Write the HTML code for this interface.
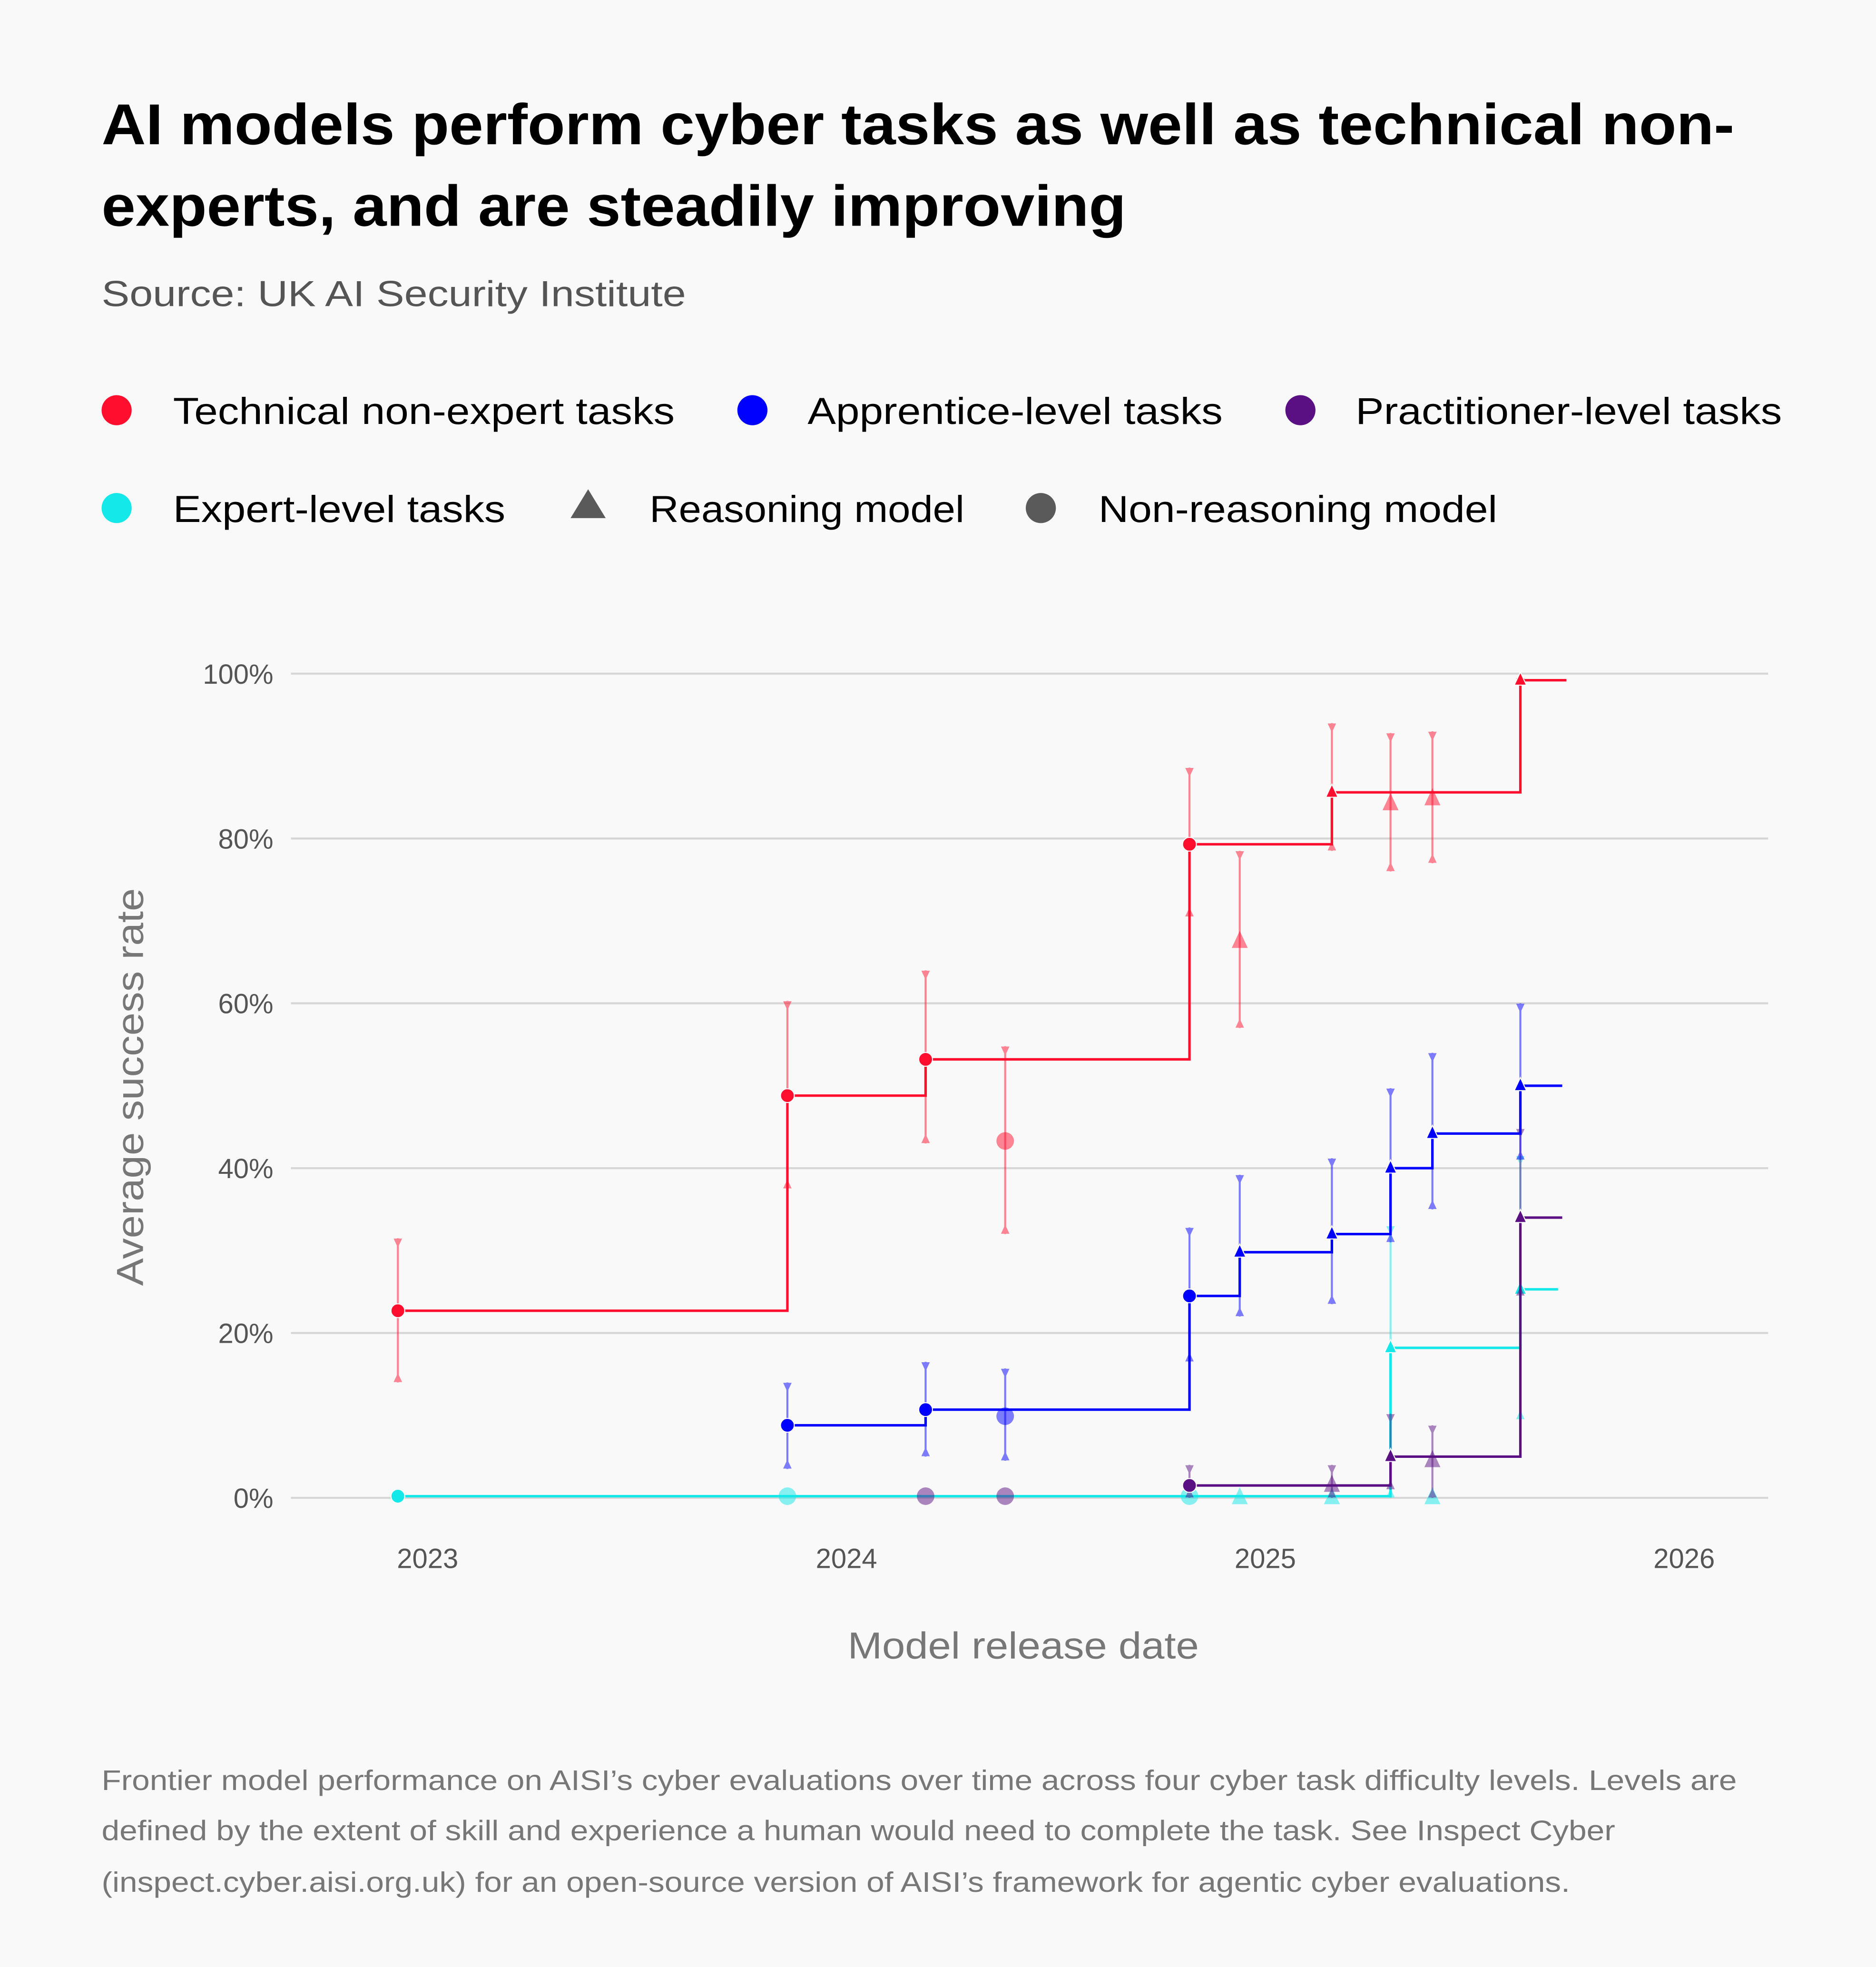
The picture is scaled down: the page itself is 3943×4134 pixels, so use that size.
<!DOCTYPE html>
<html><head><meta charset="utf-8">
<style>
html,body{margin:0;padding:0;background:#f9f9f9;}
svg{display:block;font-family:"Liberation Sans",sans-serif;}
</style></head>
<body>
<svg id="chart" width="3943" height="4134" viewBox="0 0 1496 1568" preserveAspectRatio="none" xmlns="http://www.w3.org/2000/svg">
<rect x="0" y="0" width="1496" height="1568" fill="#f9f9f9"/>
<text x="81" y="115" font-size="46" font-weight="bold" fill="#000" textLength="1302" lengthAdjust="spacingAndGlyphs">AI models perform cyber tasks as well as technical non-</text>
<text x="81" y="180" font-size="46" font-weight="bold" fill="#000" textLength="817" lengthAdjust="spacingAndGlyphs">experts, and are steadily improving</text>
<text x="81" y="244" font-size="29" fill="#555" textLength="466" lengthAdjust="spacingAndGlyphs">Source: UK AI Security Institute</text>

<g font-size="30" fill="#000">
<g><circle cx="93" cy="327" r="12" fill="#ff0f2d"/><text x="138" y="338" textLength="400" lengthAdjust="spacingAndGlyphs">Technical non-expert tasks</text></g>
<g><circle cx="600" cy="327" r="12" fill="#0000ff"/><text x="644" y="338" textLength="331" lengthAdjust="spacingAndGlyphs">Apprentice-level tasks</text></g>
<g><circle cx="1037" cy="327" r="12" fill="#5a0f82"/><text x="1081" y="338" textLength="340" lengthAdjust="spacingAndGlyphs">Practitioner-level tasks</text></g>
<g><circle cx="93" cy="405" r="12" fill="#14e8e8"/><text x="138" y="416" textLength="265" lengthAdjust="spacingAndGlyphs">Expert-level tasks</text></g>
<g><polygon points="469,390 455,413 483,413" fill="#5a5a5a"/><text x="518" y="416" textLength="251" lengthAdjust="spacingAndGlyphs">Reasoning model</text></g>
<g><circle cx="830" cy="405" r="12" fill="#5a5a5a"/><text x="876" y="416" textLength="318" lengthAdjust="spacingAndGlyphs">Non-reasoning model</text></g>
</g>

<g id="grid"></g>
<g id="yticks"></g>
<g id="xticks"></g>
<g id="marks"></g>

<text x="676" y="1322" font-size="30" fill="#777" textLength="280" lengthAdjust="spacingAndGlyphs">Model release date</text>
<text transform="translate(114,1025) rotate(-90)" font-size="30" fill="#777" textLength="317" lengthAdjust="spacingAndGlyphs">Average success rate</text>

<g font-size="22.5" fill="#777">
<text x="81" y="1427" textLength="1304" lengthAdjust="spacingAndGlyphs">Frontier model performance on AISI’s cyber evaluations over time across four cyber task difficulty levels. Levels are</text>
<text x="81" y="1467" textLength="1207" lengthAdjust="spacingAndGlyphs">defined by the extent of skill and experience a human would need to complete the task. See Inspect Cyber</text>
<text x="81" y="1508" textLength="1171" lengthAdjust="spacingAndGlyphs">(inspect.cyber.aisi.org.uk) for an open-source version of AISI’s framework for agentic cyber evaluations.</text>
</g>
</svg>
<script>
var yTicks = [0, 20, 40, 60, 80, 100];
var xTicks = [2023, 2024, 2025, 2026];
var redDates = [2022.92, 2023.85, 2024.18, 2024.37, 2024.81, 2024.93, 2025.15, 2025.29, 2025.39, 2025.60];
var redVals  = [22.7, 48.8, 53.2, 43.3, 79.3, 67.5, 85.6, 84.2, 84.8, 99.2];
var redLow   = [14, 37.5, 43, 32, 70.5, 57, 78.5, 76, 77, 99];
var redHigh  = [31.5, 60.3, 64, 54.8, 88.6, 78.5, 94, 92.8, 93, 99.5];
var redReason= [0,0,0,0,0,1,1,1,1,1];
var redMain  = [1,1,1,0,1,0,1,0,0,1];
var blueDates= [2023.85, 2024.18, 2024.37, 2024.81, 2024.93, 2025.15, 2025.29, 2025.39, 2025.60];
var blueVals = [8.8, 10.7, 9.9, 24.5, 29.8, 32, 40, 44.2, 50];
var blueLow  = [3.5, 5, 4.5, 16.5, 22, 23.5, 31, 35, 41];
var blueHigh = [14, 16.5, 15.7, 32.8, 39.2, 41.2, 49.7, 54, 60];
var blueReason=[0,0,0,0,1,1,1,1,1];
var blueMain = [1,1,0,1,1,1,1,1,1];
var purpDates= [2024.18, 2024.37, 2024.81, 2025.15, 2025.29, 2025.39, 2025.60];
var purpVals = [0.2, 0.2, 1.5, 1.5, 5, 4.5, 34];
var purpLow  = [0.2, 0.2, 0, 0, 1, 0, 24.5];
var purpHigh = [0.2, 0.2, 4, 4, 10.2, 8.8, 44.8];
var purpReason=[0,0,0,1,1,1,1];
var purpMain = [0,0,1,0,1,0,1];
var cyanDates= [2022.92, 2023.85, 2024.81, 2024.93, 2025.15, 2025.29, 2025.39, 2025.60];
var cyanVals = [0.2, 0.2, 0.2, 0, 0, 18.2, 0, 25.3];
var cyanLow  = [0.2, 0.2, 0.2, 0, 0, 0, 0, 9.5];
var cyanHigh = [0.2, 0.2, 0.2, 0, 0, 33, 0, 41.5];
var cyanReason=[0,0,0,1,1,1,1,1];
var cyanMain = [1,0,0,0,0,1,0,1];
var lineEnds = [2025.71, 2025.70, 2025.70, 2025.69];

var NS = "http://www.w3.org/2000/svg";
function xS(t){ return 344 + (t - 2023) * 334; }
function yS(v){ return 1194 - 6.57 * v; }
function mk(tag, attrs, parent){
  var e = document.createElementNS(NS, tag);
  for (var k in attrs) e.setAttribute(k, attrs[k]);
  parent.appendChild(e);
  return e;
}
var grid = document.getElementById('grid');
var yt = document.getElementById('yticks');
var xt = document.getElementById('xticks');
var marks = document.getElementById('marks');
yTicks.forEach(function(v){
  var l = mk('line', {x1:232, x2:1410, y1:yS(v), y2:yS(v), stroke:'#d6d6d6', 'stroke-width':1.6}, grid);
  
  
  var t = mk('text', {x:218, y:yS(v)+8, 'font-size':22, fill:'#555', 'text-anchor':'end'}, yt);
  t.textContent = v + '%';
  
  
});
xTicks.forEach(function(y){
  var t = mk('text', {x:xS(y)-3, y:1250, 'font-size':22, fill:'#555', 'text-anchor':'middle'}, xt);
  t.textContent = y;
  
  
});
function tri(cx, cy, s, up){
  var h = s * 1.0;
  return up ? (cx+','+(cy-h)+' '+(cx-s*0.75)+','+(cy+h*0.6)+' '+(cx+s*0.75)+','+(cy+h*0.6))
            : (cx+','+(cy+h)+' '+(cx-s*0.75)+','+(cy-h*0.6)+' '+(cx+s*0.75)+','+(cy-h*0.6));
}
function series(name, color, dates, vals, lows, highs, reason, main, endT){
  var g = mk('g', {}, marks);
  
  
  for (var i = 0; i < dates.length; i++){
    if (highs[i] - lows[i] < 0.5) continue;
    var x = xS(dates[i]);
    var eb = mk('g', {opacity:0.5}, g);
    
    
    mk('line', {x1:x, x2:x, y1:yS(highs[i]), y2:yS(lows[i]), stroke:color, 'stroke-width':1.6}, eb);
    mk('polygon', {points:tri(x, yS(highs[i])+3, 4.5, false), fill:color}, eb);
    mk('polygon', {points:tri(x, yS(lows[i])-3, 4.5, true), fill:color}, eb);
  }
  var d = '', prev = null;
  for (var j = 0; j < dates.length; j++){
    if (!main[j]) continue;
    var px = xS(dates[j]), py = yS(vals[j]);
    if (prev === null) d = 'M' + px + ',' + py;
    else d += ' H' + px + ' V' + py;
    prev = py;
  }
  d += ' H' + xS(endT);
  var p = mk('path', {d:d, fill:'none', stroke:color, 'stroke-width':2}, g);
  
  
  for (var k = 0; k < dates.length; k++){
    var mx = xS(dates[k]), my = yS(vals[k]);
    var m;
    var op = main[k] ? 1 : 0.5;
    var s = main[k] ? 6.5 : 8.5;
    if (reason[k]) m = mk('polygon', {points:tri(mx, my, s, true), fill:color, opacity:op, stroke:main[k]?'#fff':'none', 'stroke-width':0.8}, g);
    else m = mk('circle', {cx:mx, cy:my, r:main[k]?5.5:7, fill:color, opacity:op, stroke:main[k]?'#fff':'none', 'stroke-width':0.8}, g);
    
    
  }
}
series('expert', '#14e8e8', cyanDates, cyanVals, cyanLow, cyanHigh, cyanReason, cyanMain, lineEnds[3]);
series('practitioner', '#5a0f82', purpDates, purpVals, purpLow, purpHigh, purpReason, purpMain, lineEnds[2]);
series('apprentice', '#0000ff', blueDates, blueVals, blueLow, blueHigh, blueReason, blueMain, lineEnds[1]);
series('technical', '#ff0f2d', redDates, redVals, redLow, redHigh, redReason, redMain, lineEnds[0]);
</script>
</body></html>
